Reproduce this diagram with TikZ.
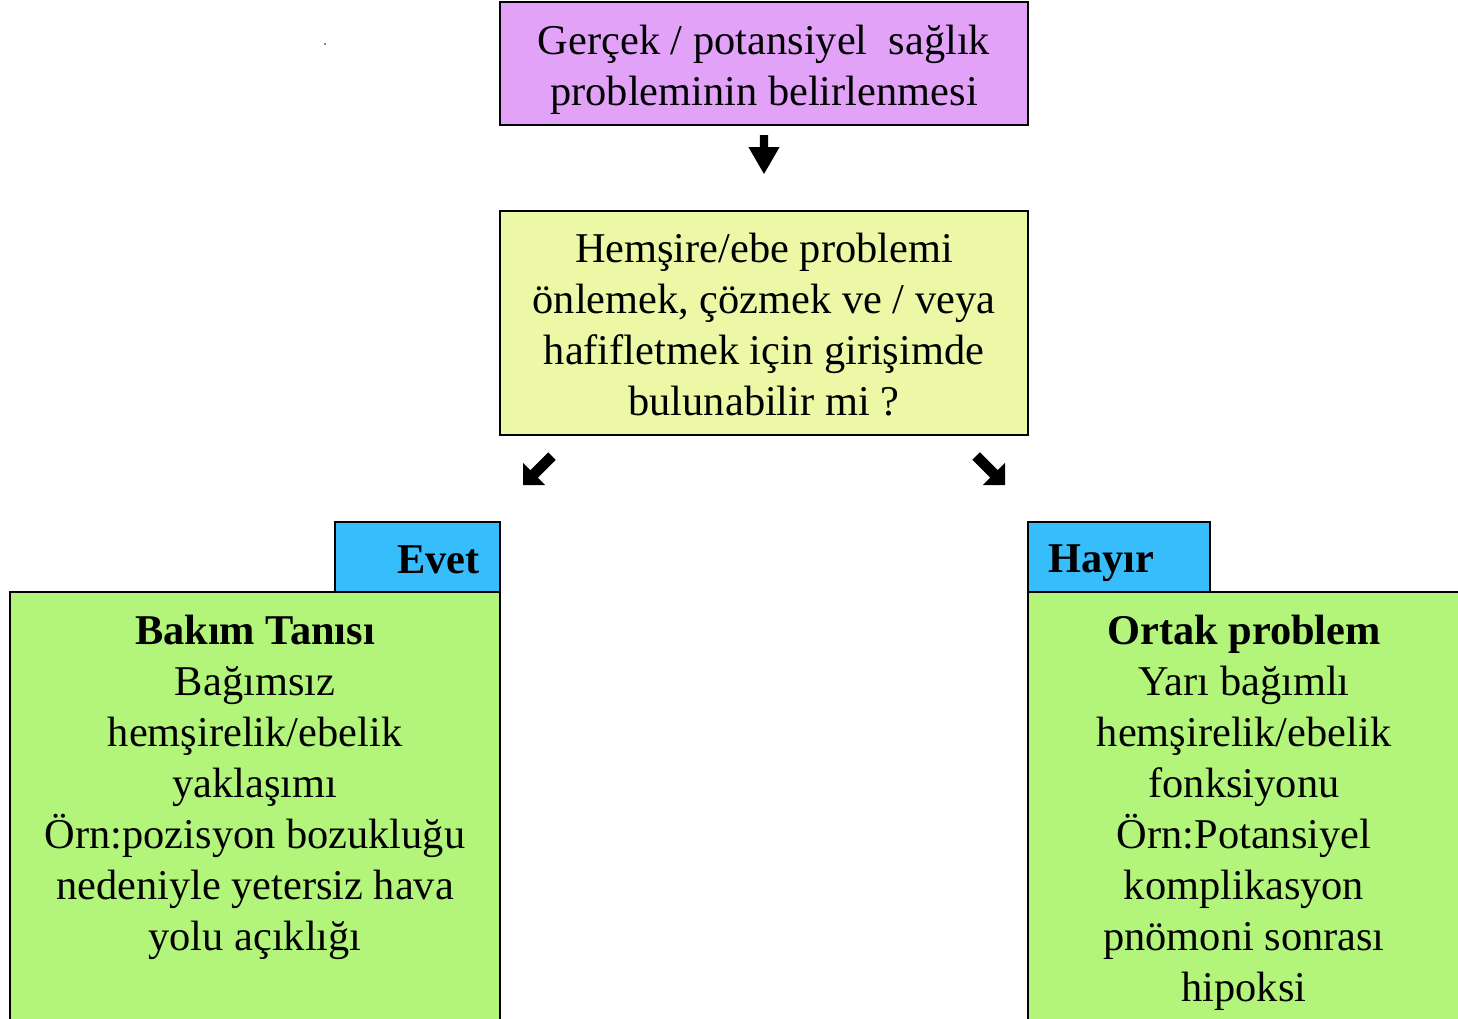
\documentclass[tikz,border=0pt]{standalone}
\usepackage{fontspec}
\setmainfont[Ligatures={TeX,NoCommon}]{Liberation Serif}
\definecolor{purp}{HTML}{E2A2F8}
\definecolor{yell}{HTML}{EDF8A6}
\definecolor{grn}{HTML}{B3F57A}
\definecolor{blu}{HTML}{38BDFC}
\tikzset{
  box/.style={draw=black, line width=2pt, inner sep=0pt},
  txt/.style={align=center, inner sep=0pt, font=\fontsize{42.4}{51}\selectfont},
  downarr/.pic={\fill[black] (-4.2,-39) -- (4.2,-39) -- (4.2,-27) -- (15.6,-27) -- (0,0) -- (-15.6,-27) -- (-4.2,-27) -- cycle;},
  diagarr/.pic={\fill[black] (-5.3,-41) -- (5.3,-41) -- (5.3,-15.6) -- (15.6,-15.6) -- (0,0) -- (-15.6,-15.6) -- (-5.3,-15.6) -- cycle;}
}
\begin{document}
\begin{tikzpicture}[x=1pt,y=-1pt]
\useasboundingbox (0,0) rectangle (1458,1018);
% top box
\node[box, fill=purp, minimum width=528pt, minimum height=123pt] (top) at (764,63.5) {};
\node[txt] (toptxt) at (764,70) {Gerçek / potansiyel\ \ sağlık\\probleminin belirlenmesi};
% middle box
\node[box, fill=yell, minimum width=528pt, minimum height=224pt] (mid) at (764,323) {};
\node[txt] (midtxt) at (764,325) {Hemşire/ebe problemi\\önlemek, çözmek ve / veya\\hafifletmek için girişimde\\bulunabilir mi ?};
% arrows
\pic (a1) at (764,174) {downarr};
\pic[rotate=-45] (a2) at (523,485) {diagarr};
\pic[rotate=45] (a3) at (1005,485) {diagarr};
% left branch
\node[box, fill=blu, minimum width=165pt, minimum height=70pt] (evet) at (417.5,557) {};
\node[txt, font=\fontsize{42.4}{51}\selectfont\bfseries, anchor=east] (evettxt) at (480,560) {Evet};
\draw[box, fill=grn] (10,592) rectangle (500,1040);
\node[txt] (ltxt) at (255,787) {\textbf{Bakım Tanısı}\\Bağımsız\\hemşirelik/ebelik\\yaklaşımı\\Örn:pozisyon bozukluğu\\nedeniyle yetersiz hava\\yolu açıklığı};
% right branch
\node[box, fill=blu, minimum width=182pt, minimum height=70pt] (hayir) at (1119,557) {};
\node[txt, font=\fontsize{42.4}{51}\selectfont\bfseries, anchor=west] (hayirtxt) at (1048,563) {Hayır};
\draw[box, fill=grn] (1028,592) rectangle (1470,1040);
\node[txt] (rtxt) at (1244,813) {\textbf{Ortak problem}\\Yarı bağımlı\\hemşirelik/ebelik\\fonksiyonu\\Örn:Potansiyel\\komplikasyon\\pnömoni sonrası\\hipoksi};
% stray dot
\fill[black] (325,44) circle (0.8);
\end{tikzpicture}
\end{document}
